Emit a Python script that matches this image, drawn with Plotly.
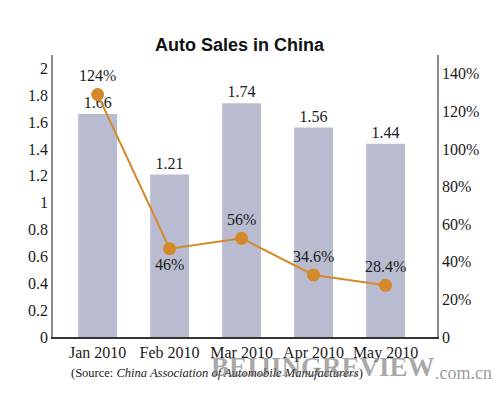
import plotly.graph_objects as go

months = ["Jan 2010", "Feb 2010", "Mar 2010", "Apr 2010", "May 2010"]
sales_million = [1.66, 1.21, 1.74, 1.56, 1.44]
sales_labels = ["1.66", "1.21", "1.74", "1.56", "1.44"]
growth_pct = [129, 47, 52.5, 33, 27.5]  # marker heights as drawn in the picture
growth_labels = ["124%", "46%", "56%", "34.6%", "28.4%"]
growth_label_pos = ["top center", "bottom center", "top center", "top center", "top center"]
left_ticks = [0, 0.2, 0.4, 0.6, 0.8, 1, 1.2, 1.4, 1.6, 1.8, 2]
left_ticktext = ["0", "0.2", "0.4", "0.6", "0.8", "1", "1.2", "1.4", "1.6", "1.8", "2"]
right_ticks = [0, 20, 40, 60, 80, 100, 120, 140]
right_ticktext = ["0", "20%", "40%", "60%", "80%", "100%", "120%", "140%"]

SERIF = "Liberation Serif"
BAR_COLOR = "#B9BCD1"
LINE_COLOR = "#D4892A"
TXT = "#1a1a1a"

fig = go.Figure()
fig.add_trace(go.Bar(
    x=list(range(len(months))), y=sales_million, width=0.54,
    marker=dict(color=BAR_COLOR, line=dict(width=0)),
    text=sales_labels, textposition="outside",
    textfont=dict(family=SERIF, size=16, color=TXT),
    cliponaxis=False, showlegend=False, hoverinfo="skip",
))
fig.add_trace(go.Scatter(
    x=list(range(len(months))), y=growth_pct, yaxis="y2",
    mode="lines+markers+text",
    line=dict(color=LINE_COLOR, width=2),
    marker=dict(color=LINE_COLOR, size=13),
    text=growth_labels, textposition=growth_label_pos,
    textfont=dict(family=SERIF, size=16, color=TXT),
    cliponaxis=False, showlegend=False, hoverinfo="skip",
))

fig.update_layout(
    width=492, height=390,
    margin=dict(l=45, r=63, t=47, b=61),
    paper_bgcolor="white", plot_bgcolor="white",
    font=dict(family=SERIF, size=16, color=TXT),
    xaxis=dict(
        range=[-0.62, 4.715], tickvals=list(range(len(months))), ticktext=months,
        showline=True, linecolor="#333333", linewidth=1.5,
        showgrid=False, zeroline=False, ticks="",
        tickfont=dict(family=SERIF, size=16, color=TXT),
    ),
    yaxis=dict(
        range=[0, 2.1], tickvals=left_ticks, ticktext=left_ticktext,
        showline=True, linecolor="#8a8a8a", linewidth=1.5,
        showgrid=False, zeroline=False, ticks="",
        tickfont=dict(family=SERIF, size=16, color=TXT),
    ),
    yaxis2=dict(
        range=[0, 150], tickvals=right_ticks, ticktext=right_ticktext,
        overlaying="y", side="right",
        showline=True, linecolor="#8a8a8a", linewidth=1.5,
        showgrid=False, zeroline=False, ticks="",
        tickfont=dict(family=SERIF, size=16, color=TXT),
    ),
    annotations=[
        dict(text="<b>Auto Sales in China</b>", x=0.488, y=1.035, xref="paper", yref="paper",
             showarrow=False, xanchor="center", yanchor="middle",
             font=dict(family="Liberation Sans", size=18, color="#111111")),
        dict(text="(Source: <i>China Association of Automobile Manufacturers</i>)",
             x=0.427, y=-0.128, xref="paper", yref="paper", showarrow=False,
             xanchor="center", yanchor="middle",
             font=dict(family=SERIF, size=12.5, color=TXT)),
        dict(text="<b>BEIJINGREVIEW</b>", x=0.704, y=-0.108, xref="paper", yref="paper",
             showarrow=False, xanchor="center", yanchor="middle",
             font=dict(family=SERIF, size=27, color="rgba(110,110,110,0.6)")),
        dict(text=".com.cn", x=1.068, y=-0.128, xref="paper", yref="paper",
             showarrow=False, xanchor="center", yanchor="middle",
             font=dict(family=SERIF, size=18, color="rgba(110,110,110,0.7)")),
    ],
)

fig.write_html("out.html")
